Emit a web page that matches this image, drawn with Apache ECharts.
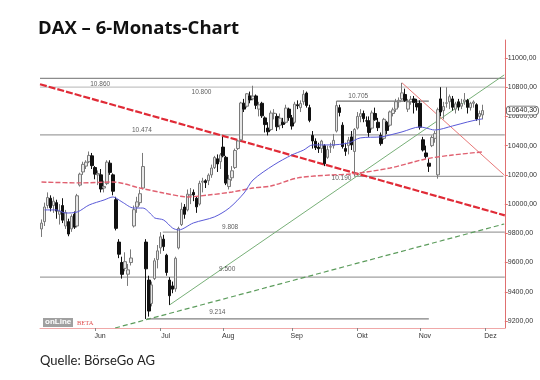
<!DOCTYPE html>
<html><head><meta charset="utf-8">
<script src="https://cdn.jsdelivr.net/npm/echarts@6/dist/echarts.min.js"></script>
<style>html,body{margin:0;padding:0;background:#fff}#c{width:540px;height:380px}</style>
</head><body><div id="c"></div>
<script>
// ---------- DATA ----------
const titleText = 'DAX \u2013 6-Monats-Chart';
const sourceText = 'Quelle: B\u00f6rseGo AG';
const monthNames = ['Jan','Feb','M\u00e4r','Apr','Mai','Jun','Jul','Aug','Sep','Okt','Nov','Dez'];
const firstDay = '2016-05-06';
const lastDay = '2016-12-09';   // axis runs a week past the last candle
const yTickValues = [9200,9400,9600,9800,10000,10200,10400,10600,10800,11000];

const opens = [
9830,9880,9990,10040,9990,10010,9930,9990,9850,9880,9830,9930,9850,10130,10220,10260,10290,10330,
10250,10200,10200,10110,10140,10280,10200,10030,9740,9600,9560,9520,9600,9850,9980,10010,10110,9740,9480,9320,9490,9620,
9700,9760,9650,9480,9440,9420,9700,9860,9980,9960,10060,10080,10040,10000,10150,10160,10160,10200,10250,10310,10290,
10390,10320,10120,10180,10250,10380,10440,10690,10670,10740,10720,10740,10650,10690,10590,10520,10510,10620,10600,10540,10560,10560,10650,
10590,10560,10680,10660,10700,10760,10660,10470,10430,10390,10380,10400,10320,10390,10400,10500,10660,10540,10380,10400,10460,10360,
10520,10600,10620,10570,10570,10520,10620,10560,10470,10450,10560,10540,10620,10650,10700,10720,10750,10650,10700,10720,10690,
10690,10440,10350,10280,10400,10450,10200,10720,10640,10690,10700,10720,10650,10700,10670,10700,10710,10660,10690,10680,10600,10610];
const closes = [
9870,9980,10045,9975,10020,9952,9952,9890,9943,9795,9916,9842,10057,10205,10272,10287,10333,10263,
10205,10209,10103,10121,10287,10217,10088,9834,9657,9519,9606,9550,9631,9962,10015,10071,10257,9557,9268,9447,9612,9680,
9776,9709,9532,9373,9418,9629,9833,9964,9930,10068,10066,10063,9981,10142,10157,10147,10198,10247,10319,10275,10337,
10330,10144,10170,10228,10367,10432,10692,10650,10755,10713,10739,10676,10679,10604,10544,10495,10623,10622,10529,10588,10545,10657,10592,
10534,10684,10673,10688,10752,10675,10573,10432,10386,10379,10431,10276,10373,10393,10436,10674,10627,10394,10361,10438,10405,10511,
10600,10619,10585,10568,10490,10624,10577,10523,10414,10580,10504,10631,10645,10701,10710,10761,10710,10700,10717,10696,10665,
10526,10370,10325,10259,10456,10482,10646,10630,10668,10693,10735,10663,10686,10664,10689,10713,10662,10690,10699,10582,10620,10640.30];
const highs = [
9895,10010,10080,10060,10050,10030,10000,10040,9960,9900,9930,9950,10070,10215,10290,10300,10360,10350,
10260,10230,10240,10160,10300,10300,10210,10050,9760,9640,9670,9590,9690,9990,10050,10100,10350,9760,9510,9470,9630,9720,
9808,9790,9660,9500,9470,9640,9845,10010,10000,10100,10110,10100,10050,10160,10180,10170,10210,10270,10330,10340,10350,
10460,10330,10200,10260,10380,10440,10700,10720,10760,10770,10810,10750,10700,10700,10600,10560,10640,10650,10620,10620,10590,10680,10660,
10610,10700,10710,10710,10780,10770,10680,10500,10450,10420,10440,10410,10400,10420,10480,10705,10680,10560,10420,10460,10500,10520,
10630,10650,10640,10600,10600,10640,10660,10590,10490,10590,10570,10640,10660,10720,10730,10830,10790,10720,10740,10740,10720,
10710,10460,10400,10310,10470,10500,10660,10800,10700,10800,10750,10740,10700,10720,10720,10760,10720,10700,10710,10690,10640,10680];
const lows = [
9775,9850,9970,9950,9940,9900,9860,9870,9830,9780,9810,9830,9840,10120,10200,10240,10280,10240,
10170,10130,10080,10080,10130,10200,10060,9820,9630,9490,9540,9440,9580,9840,9940,9990,10100,9214,9230,9300,9480,9560,
9660,9680,9510,9310,9390,9400,9690,9850,9900,9950,10000,10020,9940,9990,10080,10110,10130,10180,10240,10220,10240,
10320,10130,10100,10160,10240,10370,10430,10630,10660,10690,10710,10650,10600,10590,10490,10470,10500,10580,10500,10510,10520,10550,10570,
10510,10550,10650,10630,10680,10660,10560,10380,10370,10350,10350,10260,10310,10350,10380,10490,10600,10380,10330,10340,10370,10190,
10510,10560,10560,10530,10460,10510,10570,10500,10400,10440,10480,10530,10600,10630,10660,10710,10700,10630,10680,10620,10640,
10510,10360,10310,10220,10390,10420,10174,10600,10580,10660,10650,10640,10620,10640,10650,10680,10620,10640,10660,10570,10540,10580];

// moving averages: [trading-day index, value]
const maBlue = [[1,9960],[5,9960],[8,9939],[12,9946],[16,9994],[21,10028],[24,10049],[27,10015],[31,9973],[34,9973],[37,9926],[38,9905],[41,9891],[44,9836],[46,9823],[51,9871],[58,9912],[63,9973],[68,10076],[71,10165],[78,10268],[84,10336],[88,10370],[91,10405],[97,10405],[103,10418],[107,10453],[114,10460],[117,10473],[121,10494],[127,10528],[129,10521],[132,10507],[138,10535],[143,10562],[146,10576],[148,10583]];
const maRed = [[0,10151],[13,10145],[24,10151],[33,10110],[41,10076],[49,10049],[56,10062],[64,10083],[71,10110],[77,10124],[86,10179],[97,10199],[104,10206],[117,10247],[129,10309],[138,10336],[148,10357]];

// trend lines: [trading-day index, value]
const downTrend = [[-0.5,10820],[155.5,9923]];
const shortDown = [[121,10830],[155.3,10199]];
const upTrend = [[43,9310],[155.3,10884]];
const upTrendDashed = [[24.7,9152],[155.3,9864]];

// horizontal levels: value, start index, end index
const levelValues = [10860, 10800, 10474, 10705, 10190, 9808, 9500, 9214];
const levelStart  = [-0.5, -0.5, -0.5, 99, 105, 40.7, -0.5, 35.3];
const levelEnd    = [155.5, 155.5, 155.5, 130, 155, 155.5, 155.5, 130];

// ---------- build ----------
const categories = [];
for (let d = new Date(firstDay + 'T00:00:00Z'); d <= new Date(lastDay + 'T00:00:00Z'); d.setUTCDate(d.getUTCDate() + 1)) {
  const wd = d.getUTCDay();
  if (wd === 0 || wd === 6) continue;
  categories.push(d.toISOString().slice(0, 10));
}
const N = categories.length;
const candles = opens.map((o, i) => [o, closes[i], lows[i], highs[i]]);
const isMonthStart = (i) => i > 0 && categories[i].slice(5, 7) !== categories[i - 1].slice(5, 7);
const deNum = (v) => v.toFixed(2).replace('.', ',');
const deLevel = (v) => String(v).replace(/\B(?=(\d{3})+(?!\d))/g, '.');

// styling for level labels (position along the axis and vertical offset)
const levelLabelX  = [19.7, 53.7, 33.7, 106.3, 100.7, 63.3, 62.3, 59];
const levelLabelDy = [6, 5, -5, -5, 2, -5, -8, -7];
const levelColors  = ['#8c8c8c', '#c4c4c4', '#a0a0a0', '#707070', '#a0a0a0', '#a0a0a0', '#a0a0a0', '#808080'];

const lastClose = closes[closes.length - 1];
const series = [];
levelValues.forEach((v, i) => {
  series.push({ type: 'line', xAxisIndex: 1, data: [[levelStart[i], v], [levelEnd[i], v]], showSymbol: false, silent: true,
    lineStyle: { color: levelColors[i], width: 1.3 }, z: 1 });
});
// small bracket tick at the start of the 10.705 line
series.push({ type: 'line', xAxisIndex: 1, data: [[levelStart[3], levelValues[3]], [levelStart[3], levelValues[3] - 40]], showSymbol: false, silent: true,
  lineStyle: { color: '#707070', width: 1 }, z: 1 });

series.push({ type: 'line', xAxisIndex: 1, data: upTrendDashed, showSymbol: false, silent: true, lineStyle: { color: '#5c9c5c', width: 1.2, type: [5, 3] }, z: 2 });
series.push({ type: 'line', xAxisIndex: 1, data: upTrend, showSymbol: false, silent: true, lineStyle: { color: '#78b078', width: 1 }, z: 2 });
series.push({ type: 'line', xAxisIndex: 1, data: shortDown, showSymbol: false, silent: true, lineStyle: { color: '#e87878', width: 1 }, z: 2 });
series.push({ type: 'line', xAxisIndex: 1, data: downTrend, showSymbol: false, silent: true, lineStyle: { color: '#e02a36', width: 2.2, type: [7, 2] }, z: 2 });

series.push({ type: 'candlestick', xAxisIndex: 0, data: candles, barWidth: 3, z: 3,
  itemStyle: { color: '#e8e8e8', color0: '#111111', borderColor: '#7a7a7a', borderColor0: '#111111', borderWidth: 1 },
  markLine: { silent: true, symbol: ['none', 'none'], data: [{ yAxis: lastClose }], lineStyle: { color: 'rgba(0,0,0,0)', width: 0.1, type: 'solid' },
    label: { show: true, position: 'end', distance: 2, formatter: deNum(lastClose), fontSize: 7, color: '#222', fontFamily: 'Liberation Sans',
      backgroundColor: '#fff', borderColor: '#555', borderWidth: 0.8, borderRadius: 3, padding: [1, 1, 0, 1] } } });

series.push({ type: 'line', xAxisIndex: 1, data: maRed, showSymbol: false, silent: true, smooth: 0.3, lineStyle: { color: '#e06070', width: 1.4, type: [5, 2] }, z: 4 });
series.push({ type: 'line', xAxisIndex: 1, data: maBlue, showSymbol: false, silent: true, smooth: 0.3, lineStyle: { color: '#5a5ad8', width: 1 }, z: 4 });

series.push({ type: 'scatter', xAxisIndex: 1, symbolSize: 1, silent: true, z: 6,
  itemStyle: { color: 'rgba(0,0,0,0)' },
  data: levelValues.map((v, i) => ({ value: [levelLabelX[i], v], label: { offset: [0, levelLabelDy[i]] } })),
  label: { show: true, position: 'inside', formatter: (p) => deLevel(p.value[1]), fontSize: 6.5, color: '#333', fontFamily: 'Liberation Sans' } });

const chart = echarts.init(document.getElementById('c'), null, { renderer: 'canvas' });
chart.setOption({
  animation: false,
  backgroundColor: '#fff',
  textStyle: { fontFamily: 'Liberation Sans' },
  grid: { left: 40, right: 32, top: 40, bottom: 52 },
  xAxis: [
    { type: 'category', data: categories, boundaryGap: true,
      axisLine: { show: true, onZero: false, lineStyle: { color: '#f0a8a8', width: 1 } },
      axisTick: { show: true, alignWithLabel: true, interval: (i) => isMonthStart(i), length: 3, lineStyle: { color: '#888' } },
      axisLabel: { interval: (i) => isMonthStart(i), formatter: (v) => monthNames[+v.slice(5, 7) - 1], fontSize: 7, color: '#333', margin: 5, padding: [0, 0, 0, 10] },
      splitLine: { show: false } },
    { type: 'value', min: -0.5, max: N - 0.5, show: false, axisLine: { onZero: false } }
  ],
  yAxis: { type: 'value', position: 'right', min: 9152, max: 11123,
    axisLine: { show: true, onZero: false, lineStyle: { color: '#e07070', width: 1 } },
    axisTick: { show: true, length: 3, customValues: yTickValues, lineStyle: { color: '#e07070' } },
    axisLabel: { customValues: yTickValues, formatter: (v) => deNum(v), fontSize: 7, color: '#333', margin: 3 },
    splitLine: { show: false } },
  graphic: [
    { type: 'text', left: 38, top: 19, style: { text: titleText, fontFamily: 'Open Sans', fontWeight: 'bold', fontSize: 18.5, fill: '#111' } },
    { type: 'text', left: 40, top: 354, style: { text: sourceText, fontFamily: 'Lato', fontSize: 13, fill: '#222' } },
    { type: 'rect', left: 43, top: 318, shape: { width: 30, height: 9 }, style: { fill: '#a0a0a0' } },
    { type: 'text', left: 45, top: 318, style: { text: 'onLine', fontFamily: 'Liberation Sans', fontWeight: 'bold', fontSize: 8, fill: '#fff' } },
    { type: 'text', left: 77, top: 320, style: { text: 'BETA', fontFamily: 'Liberation Serif', fontSize: 6.5, fill: '#e05050' } }
  ],
  series: series
});
</script>
</body></html>
